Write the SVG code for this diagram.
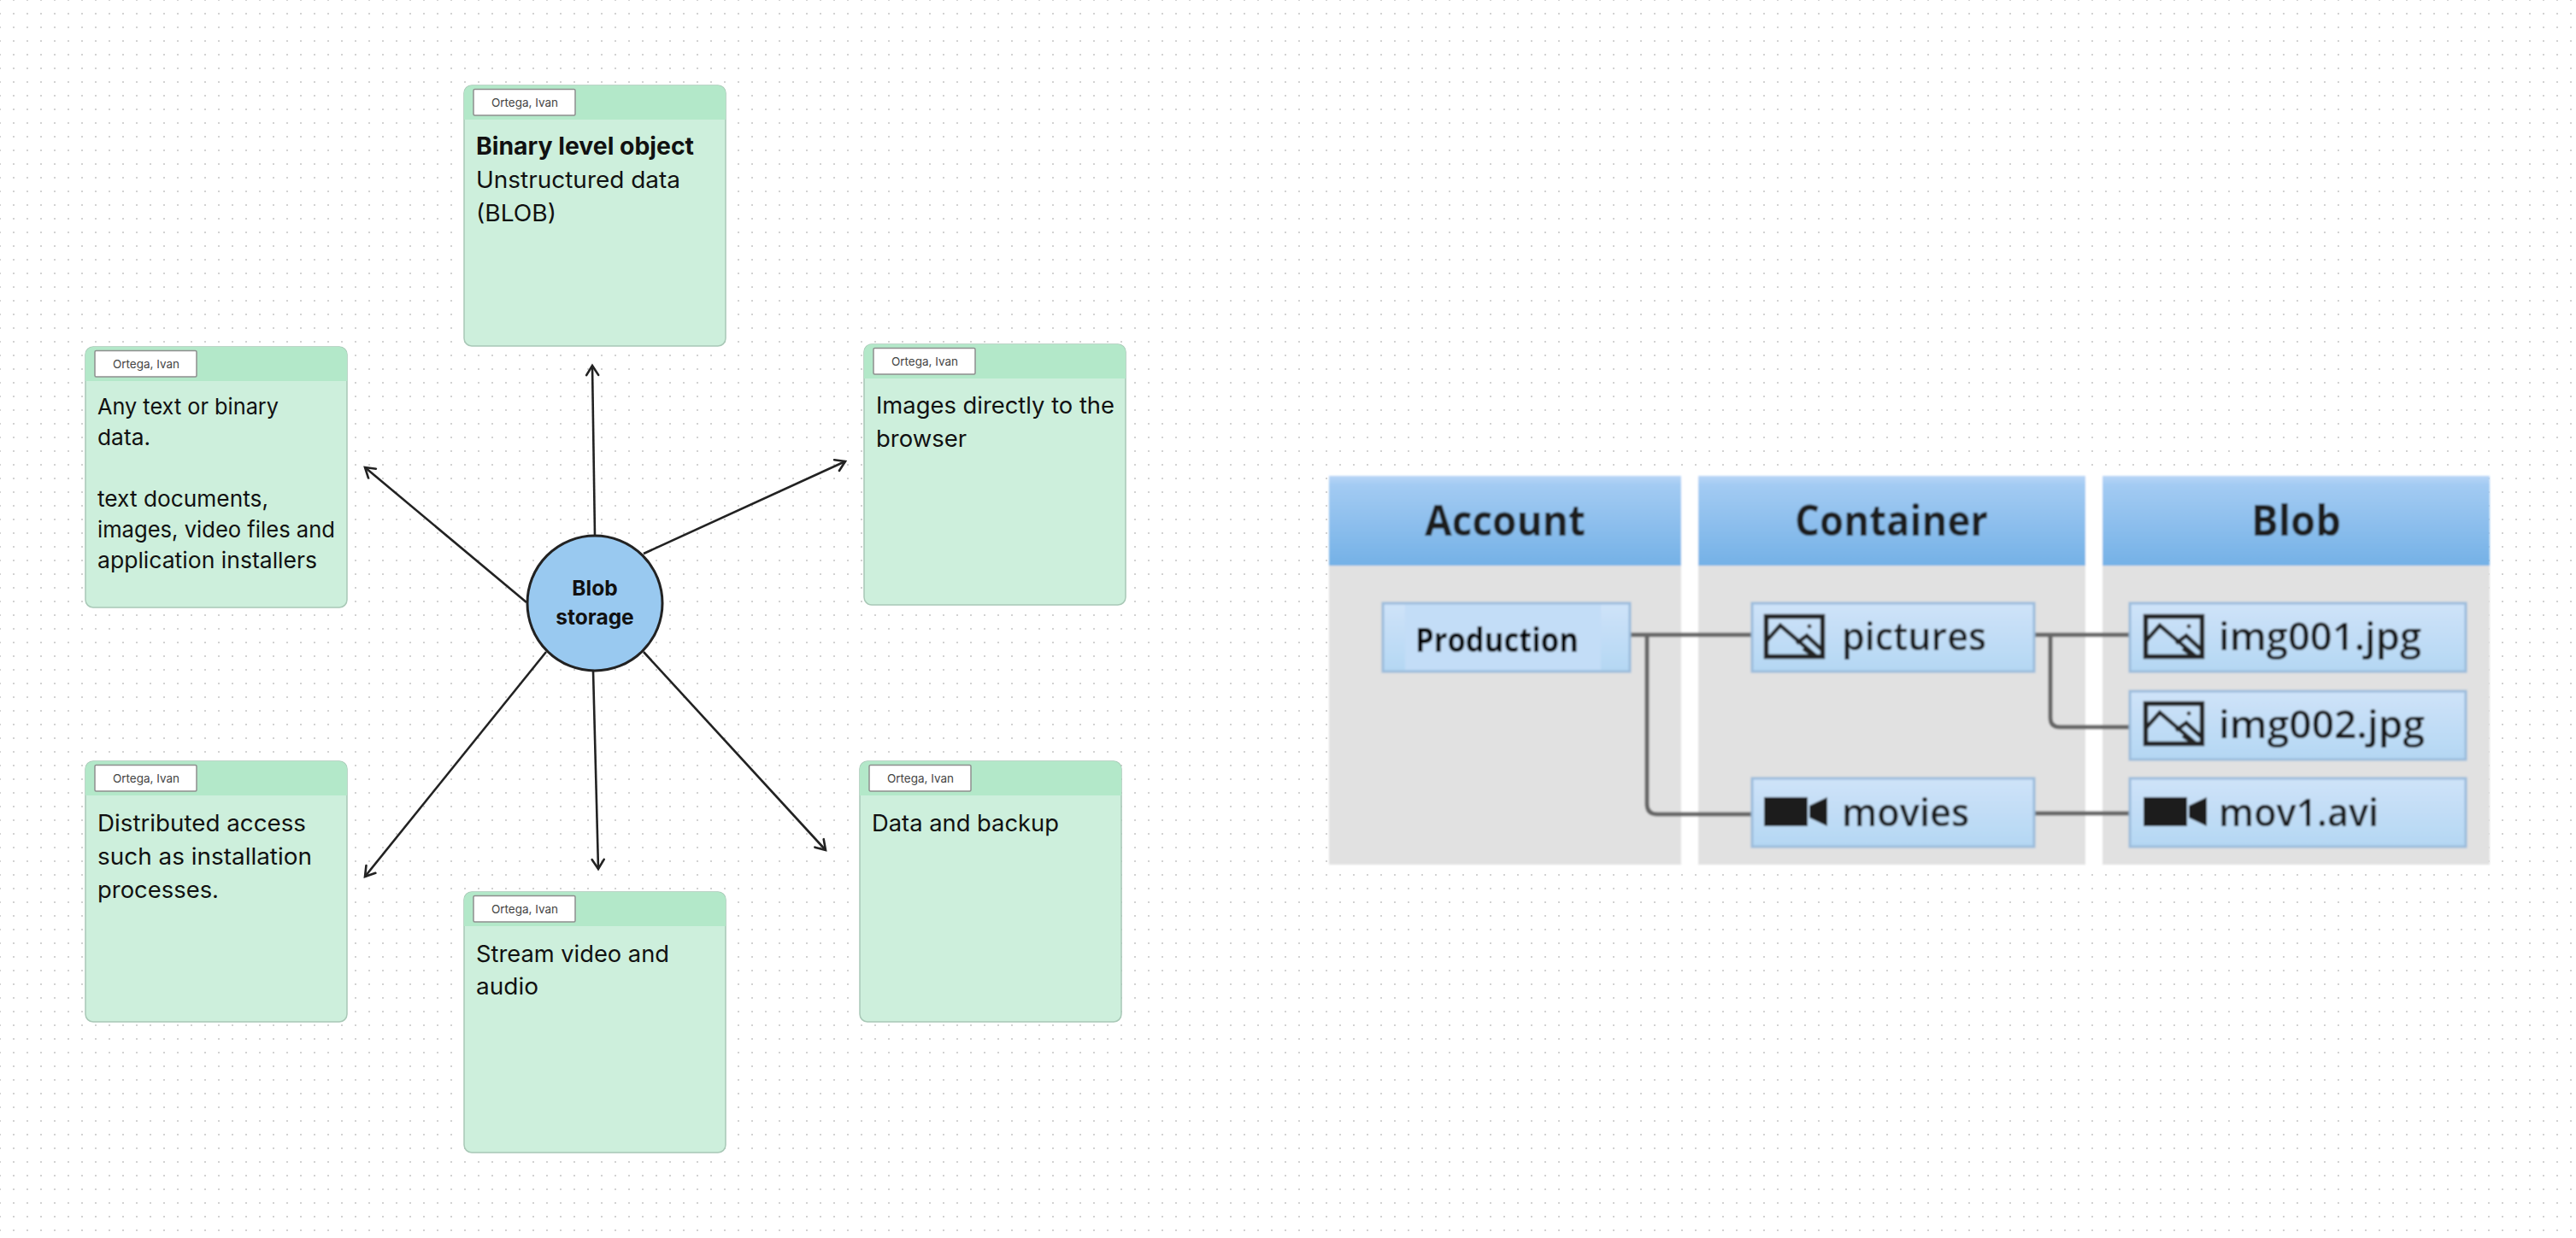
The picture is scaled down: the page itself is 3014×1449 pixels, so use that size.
<svg xmlns="http://www.w3.org/2000/svg" width="3014" height="1449" viewBox="0 0 3014 1449">
<style>
.t{font-family:"Inter","Noto Sans",sans-serif;font-size:27px;fill:#111}
.s{font-size:26px}
.b{font-weight:700;font-size:28px}
.lb{font-family:"Inter","Noto Sans",sans-serif;font-size:13.5px;fill:#444;text-anchor:middle}
.c{font-family:"Inter","Noto Sans",sans-serif;font-size:24.500px;font-weight:700;fill:#111;text-anchor:middle}
.arrow{fill:none;stroke:#222;stroke-width:2.6;marker-end:url(#head)}
.p{font-family:"Open Sans","Noto Sans",sans-serif}
.hd{font-size:50px;font-weight:700;fill:#1e1e1e}
.it{font-size:46px;font-weight:600;fill:#161616}
.pr{font-size:39px;font-weight:700;fill:#000}
.wire{fill:none;stroke:#666;stroke-width:5}
.box{fill:url(#boxg);stroke:#9bbcdb;stroke-width:3}
.hdr{fill:url(#hdrg)}
.col{fill:#e1e1e1}
</style>
<defs>
<pattern id="dots" width="16" height="16" patternUnits="userSpaceOnUse" x="-1" y="-1"><rect width="2" height="2" fill="#d2d2d2"/></pattern>
<marker id="head" markerUnits="userSpaceOnUse" markerWidth="24" markerHeight="24" refX="12" refY="12" orient="auto" overflow="visible"><path d="M1,5 L12,12 L1,19" fill="none" stroke="#222" stroke-width="2.6" stroke-linecap="round" stroke-linejoin="miter"/></marker>
<linearGradient id="hdrg" x1="0" y1="0" x2="0" y2="1"><stop offset="0" stop-color="#b8d5f6"/><stop offset=".1" stop-color="#a3cbf3"/><stop offset="1" stop-color="#74b1e6"/></linearGradient>
<linearGradient id="boxg" x1="0" y1="0" x2="0" y2="1"><stop offset="0" stop-color="#cfe3f9"/><stop offset="1" stop-color="#b4d7f3"/></linearGradient>
<filter id="soft" x="-2%" y="-2%" width="104%" height="104%"><feGaussianBlur stdDeviation="0.8"/></filter>
<g id="card">
<rect x="0" y="0" width="306" height="305" rx="9" fill="#cdefdc" stroke="#a8c8b6" stroke-width="1.5"/>
<path d="M0,40 V9 A9,9 0 0 1 9,0 H297 A9,9 0 0 1 306,9 V40 Z" fill="#b3e8c9"/>
<rect x="11" y="4.500" width="119" height="30.500" rx="1.500" fill="#fff" stroke="#8e8e8e" stroke-width="1.500"/>
<text class="lb" x="71" y="25">Ortega, Ivan</text>
</g>
<g id="pic" fill="none" stroke="#222">
<rect x="2.500" y="2.500" width="66" height="47" stroke-width="5.500"/>
<path d="M3,31 L19,13 L62,50 M38,34 L50,25 L67,41 M46,40 L60,50" stroke-width="4.500"/>
<circle cx="53" cy="14" r="2.500" fill="#444" stroke="none"/>
</g>
<g id="cam" fill="#1c1c1c">
<rect x="0" y="0" width="51" height="34"/>
<path d="M53,10 L74,0 V34 L53,24 Z"/>
</g>
</defs>
<rect width="3014" height="1449" fill="#fff"/>
<rect width="3014" height="1449" fill="url(#dots)"/>

<g id="connectors">
<line class="arrow" x1="696" y1="627" x2="693" y2="428"/>
<line class="arrow" x1="753" y1="648" x2="989" y2="540"/>
<line class="arrow" x1="616" y1="705" x2="427" y2="547"/>
<line class="arrow" x1="639" y1="763" x2="427" y2="1026"/>
<line class="arrow" x1="694" y1="785" x2="700" y2="1017"/>
<line class="arrow" x1="753" y1="763" x2="966" y2="995"/>
</g>

<g id="node-top" transform="translate(543,100)"><use href="#card"/>
<text class="t b" x="14" y="81" textLength="255" lengthAdjust="spacingAndGlyphs">Binary level object</text>
<text class="t" x="14" y="120" textLength="239" lengthAdjust="spacingAndGlyphs">Unstructured data</text>
<text class="t" x="14" y="159" textLength="94" lengthAdjust="spacingAndGlyphs">(BLOB)</text></g>

<g id="node-left" transform="translate(100,406)"><use href="#card"/>
<text class="t s" x="14" y="79" textLength="212" lengthAdjust="spacingAndGlyphs">Any text or binary</text>
<text class="t s" x="14" y="115" textLength="62" lengthAdjust="spacingAndGlyphs">data.</text>
<text class="t s" x="14" y="187" textLength="200" lengthAdjust="spacingAndGlyphs">text documents,</text>
<text class="t s" x="14" y="223" textLength="278" lengthAdjust="spacingAndGlyphs">images, video files and</text>
<text class="t s" x="14" y="259" textLength="257" lengthAdjust="spacingAndGlyphs">application installers</text></g>

<g id="node-right" transform="translate(1011,403)"><use href="#card"/>
<text class="t" x="14" y="81" textLength="279" lengthAdjust="spacingAndGlyphs">Images directly to the</text>
<text class="t" x="14" y="120" textLength="106" lengthAdjust="spacingAndGlyphs">browser</text></g>

<g id="node-bottom-left" transform="translate(100,891)"><use href="#card"/>
<text class="t" x="14" y="82" textLength="244" lengthAdjust="spacingAndGlyphs">Distributed access</text>
<text class="t" x="14" y="121" textLength="251" lengthAdjust="spacingAndGlyphs">such as installation</text>
<text class="t" x="14" y="160" textLength="142" lengthAdjust="spacingAndGlyphs">processes.</text></g>

<g id="node-bottom" transform="translate(543,1044)"><use href="#card"/>
<text class="t" x="14" y="82" textLength="226" lengthAdjust="spacingAndGlyphs">Stream video and</text>
<text class="t" x="14" y="120" textLength="73" lengthAdjust="spacingAndGlyphs">audio</text></g>

<g id="node-bottom-right" transform="translate(1006,891)"><use href="#card"/>
<text class="t" x="14" y="82" textLength="219" lengthAdjust="spacingAndGlyphs">Data and backup</text></g>

<g id="node-blob">
<circle cx="696" cy="706" r="79" fill="#99c9f0" stroke="#222" stroke-width="3"/>
<text class="c" x="696" y="697">Blob</text>
<text class="c" x="696" y="731">storage</text>
</g>

<g id="hierarchy-panel" filter="url(#soft)">
<rect x="1555" y="557" width="1358" height="456" fill="#fff"/>
<g id="col-account"><rect class="col" x="1555" y="661" width="412" height="351"/><rect class="hdr" x="1555" y="557" width="412" height="105"/><text class="p hd" x="1667" y="627" textLength="188" lengthAdjust="spacingAndGlyphs">Account</text></g>
<g id="col-container"><rect class="col" x="1987" y="661" width="453" height="351"/><rect class="hdr" x="1987" y="557" width="453" height="105"/><text class="p hd" x="2100" y="627" textLength="226" lengthAdjust="spacingAndGlyphs">Container</text></g>
<g id="col-blob"><rect class="col" x="2460" y="661" width="453" height="351"/><rect class="hdr" x="2460" y="557" width="453" height="105"/><text class="p hd" x="2634" y="627" textLength="105" lengthAdjust="spacingAndGlyphs">Blob</text></g>
<g id="hierarchy-connectors">
<path class="wire" d="M1906,743 H2050 M1927,743 V941 Q1927,953 1939,953 H2050"/>
<path class="wire" d="M2380,743 H2492 M2399,743 V840 Q2399,851 2410,851 H2492"/>
<path class="wire" d="M2380,952 H2492"/>
</g>
<g id="box-production"><rect class="box" x="1618" y="706" width="289" height="80"/><rect x="1644" y="708" width="229" height="76" fill="#c3ddf7"/><text class="p pr" x="1656" y="763" textLength="191" lengthAdjust="spacingAndGlyphs">Production</text></g>
<g id="box-pictures"><rect class="box" x="2050" y="706" width="330" height="80"/><use href="#pic" x="2064" y="719"/><text class="p it" x="2155" y="761" textLength="169" lengthAdjust="spacingAndGlyphs">pictures</text></g>
<g id="box-movies"><rect class="box" x="2050" y="911" width="330" height="80"/><use href="#cam" x="2064" y="933"/><text class="p it" x="2155" y="967" textLength="149" lengthAdjust="spacingAndGlyphs">movies</text></g>
<g id="box-img001"><rect class="box" x="2492" y="706" width="393" height="80"/><use href="#pic" x="2508" y="719"/><text class="p it" x="2596" y="761" textLength="237" lengthAdjust="spacingAndGlyphs">img001.jpg</text></g>
<g id="box-img002"><rect class="box" x="2492" y="809" width="393" height="80"/><use href="#pic" x="2508" y="821"/><text class="p it" x="2596" y="864" textLength="241" lengthAdjust="spacingAndGlyphs">img002.jpg</text></g>
<g id="box-mov1"><rect class="box" x="2492" y="911" width="393" height="80"/><use href="#cam" x="2508" y="933"/><text class="p it" x="2596" y="967" textLength="187" lengthAdjust="spacingAndGlyphs">mov1.avi</text></g>
</g>
</svg>
